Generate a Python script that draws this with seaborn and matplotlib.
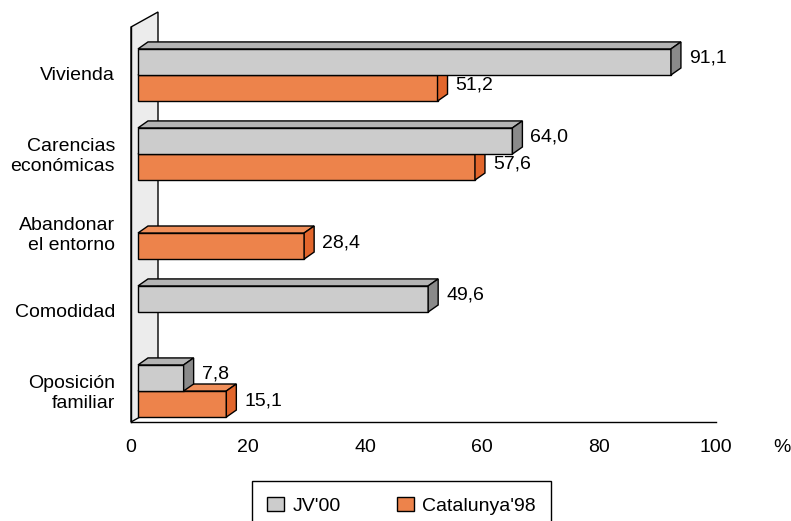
import numpy as np
import pandas as pd
import matplotlib.pyplot as plt
import seaborn as sns
from matplotlib.patches import Polygon, Patch
from matplotlib.transforms import ScaledTranslation

categories = ['Vivienda', 'Carencias\neconómicas', 'Abandonar\nel entorno',
              'Comodidad', 'Oposición\nfamiliar']
series_names = ["JV'00", "Catalunya'98"]
jv00 = [91.1, 64.0, np.nan, 49.6, 7.8]
catalunya98 = [51.2, 57.6, 28.4, np.nan, 15.1]
x_ticks = [0, 20, 40, 60, 80, 100]

front_colors = ['#cccccc', '#ed834b']
top_colors = ['#b4b4b4', '#f08f5a']
side_colors = ['#8a8a8a', '#e2662c']

df = pd.DataFrame({
    'categoria': categories * 2,
    'serie': [series_names[0]] * len(categories) + [series_names[1]] * len(categories),
    'valor': jv00 + catalunya98,
})

sns.set_style('white')
plt.rcParams['font.family'] = ['Liberation Sans', 'DejaVu Sans']
plt.rcParams['font.size'] = 14
plt.rcParams['text.color'] = 'black'
plt.rcParams['xtick.labelcolor'] = 'black'
plt.rcParams['ytick.labelcolor'] = 'black'

fig = plt.figure(figsize=(7.91, 5.21), dpi=100)
ax = fig.add_axes([131 / 791, 99 / 521, 585 / 791, 395 / 521])

sns.barplot(data=df, y='categoria', x='valor', hue='serie', order=categories,
            hue_order=series_names, palette=front_colors, saturation=1,
            orient='h', width=0.66, errorbar=None, edgecolor='black',
            linewidth=1, legend=False, ax=ax)

ax.set_xlim(0, 100)
ax.set_ylim(len(categories) - 0.5, -0.5)
ax.set_xlabel('')
ax.set_ylabel('')

# pixel helpers (dpi = 100)
def to_data(x, y, dxp, dyp):
    px, py = ax.transData.transform((x, y))
    return ax.transData.inverted().transform((px + dxp, py + dyp))

shift = ax.transData + ScaledTranslation(7 / 100, -8.5 / 100, fig.dpi_scale_trans)
depth = (10, 7)

# side wall
y_lo, y_hi = ax.get_ylim()
wall = Polygon([(0, y_hi), to_data(0, y_hi, 27, 15), to_data(0, y_lo, 27, 15), (0, y_lo)],
               closed=True, facecolor='#ececec', edgecolor='black', linewidth=1,
               clip_on=False, zorder=1)
ax.add_patch(wall)

# 3D faces for bars
for k, cont in enumerate(ax.containers):
    z = 4 - k
    for p in cont.patches:
        w = p.get_width()
        if not np.isfinite(w) or w <= 0:
            p.set_visible(False)
            continue
        x0, y0, h = p.get_x(), p.get_y(), p.get_height()
        p.set_transform(shift)
        p.set_zorder(z)
        top = Polygon([(x0, y0), (x0 + w, y0), to_data(x0 + w, y0, *depth), to_data(x0, y0, *depth)],
                      closed=True, facecolor=top_colors[k], edgecolor='black',
                      linewidth=1, transform=shift, zorder=z, clip_on=False)
        side = Polygon([(x0 + w, y0), (x0 + w, y0 + h), to_data(x0 + w, y0 + h, *depth),
                        to_data(x0 + w, y0, *depth)],
                       closed=True, facecolor=side_colors[k], edgecolor='black',
                       linewidth=1, transform=shift, zorder=z, clip_on=False)
        ax.add_patch(top)
        ax.add_patch(side)
        lx, ly = to_data(x0 + w, y0 + h / 2, depth[0] + 8, depth[1] / 2)
        ax.text(lx, ly, f'{w:.1f}'.replace('.', ','), transform=shift,
                ha='left', va='center', fontsize=14, zorder=6, clip_on=False)

# axes styling
for s in ['top', 'right']:
    ax.spines[s].set_visible(False)
for s in ['left', 'bottom']:
    ax.spines[s].set_color('black')
    ax.spines[s].set_linewidth(1)
    ax.spines[s].set_zorder(5)

ax.set_xticks(x_ticks)
ax.set_xticklabels([str(t) for t in x_ticks])
ax.tick_params(axis='x', direction='out', length=4.3, width=1, color='black', pad=8)
ax.set_yticks(np.arange(len(categories)))
ax.set_yticklabels(categories)
ax.set_yticks(np.arange(len(categories) + 1) - 0.5, minor=True)
ax.tick_params(axis='y', which='major', length=0, pad=11.5)
ax.tick_params(axis='y', which='minor', direction='out', length=4.3, width=1, color='black')
for lab in ax.get_yticklabels():
    lab.set_linespacing(1.3)
    lab.set_transform(lab.get_transform() + ScaledTranslation(0, -7 / 100, fig.dpi_scale_trans))

ax.annotate('%', xy=(1, 0), xycoords='axes fraction', xytext=(66 * 0.72, -25 * 0.72),
            textcoords='offset points', ha='center', va='center')

handles = [Patch(facecolor=c, edgecolor='black', linewidth=1) for c in front_colors]
leg = fig.legend(handles, series_names, loc='upper center', ncol=2,
                 bbox_to_anchor=(401.5 / 791, 1 - 481 / 521), frameon=True,
                 fancybox=False, edgecolor='black', handlelength=0.85,
                 handleheight=0.8, handletextpad=0.45, columnspacing=2.9,
                 borderpad=0.8, borderaxespad=0)
leg.get_frame().set_linewidth(1)
leg.get_frame().set_alpha(1)

fig.savefig('out.png', dpi=100)
